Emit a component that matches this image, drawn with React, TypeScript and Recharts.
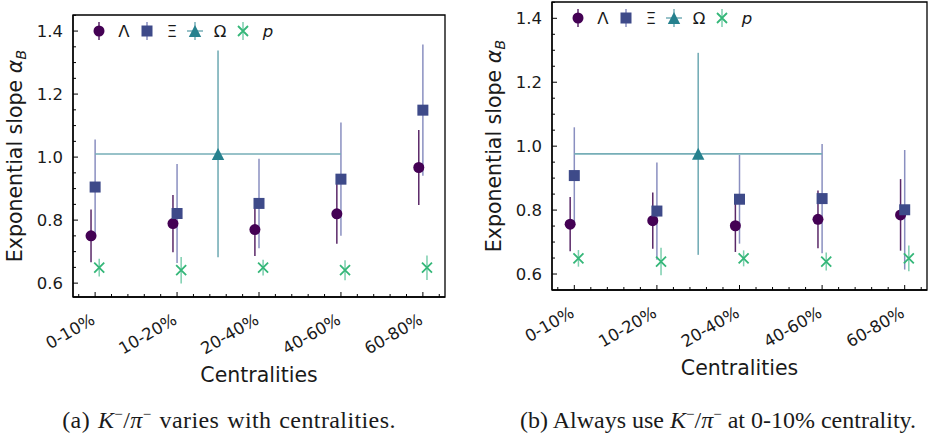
import React from 'react';
import { ScatterChart, Scatter, XAxis, YAxis, ErrorBar, ReferenceArea, Legend } from 'recharts';

const centralities = ['0-10%', '10-20%', '20-40%', '40-60%', '60-80%'];

// (a) K-/pi- varies with centralities
const lambdaA = [0.750, 0.789, 0.770, 0.820, 0.967];
const lambdaErrA = [0.084, 0.091, 0.084, 0.095, 0.119];
const xiA = [0.905, 0.821, 0.853, 0.930, 1.149];
const xiErrA = [0.151, 0.157, 0.142, 0.180, 0.208];
const omegaA = [1.010];
const omegaErrA = [0.328];
const protonA = [0.649, 0.641, 0.649, 0.641, 0.649];
const protonErrA = [0.028, 0.042, 0.025, 0.032, 0.039];

// (b) always K-/pi- at 0-10%
const lambdaB = [0.756, 0.767, 0.751, 0.771, 0.785];
const lambdaErrB = [0.085, 0.088, 0.082, 0.090, 0.112];
const xiB = [0.908, 0.797, 0.834, 0.836, 0.801];
const xiErrB = [0.151, 0.152, 0.139, 0.171, 0.187];
const omegaB = [0.976];
const omegaErrB = [0.316];
const protonB = [0.649, 0.639, 0.649, 0.639, 0.649];
const protonErrB = [0.026, 0.043, 0.025, 0.028, 0.040];

// Omega is one point spanning 0-10% .. 40-60%
const omegaX = [1.5];
const omegaXErr = [1.5];

const xTicks = [-0.2, 0, 0.2, 0.4, 0.6, 0.8, 1, 1.2, 1.4, 1.6, 1.8, 2, 2.2, 2.4, 2.6, 2.8, 3, 3.2, 3.4, 3.6, 3.8, 4, 4.2];
const yTicks = [0.6, 0.65, 0.7, 0.75, 0.8, 0.85, 0.9, 0.95, 1.0, 1.05, 1.1, 1.15, 1.2, 1.25, 1.3, 1.35, 1.4, 1.45];

const SANS = '"DejaVu Sans", Verdana, sans-serif';
const SERIF = '"Liberation Serif", "Times New Roman", serif';
const INK = '#1a1a1a';

const C = {
  lambda: '#440154', lambdaErr: '#5a2868',
  xi: '#3e4a89', xiErr: '#8a8fc0',
  omega: '#26818e', omegaErr: '#76aeb7',
  proton: '#35b779', protonErr: '#7ccfae',
};

const DODGE = 0.05;
const pts = (vals: number[], errs: number[], dx: number) =>
  vals.map((y, i) => ({ x: i + dx, y, err: errs[i] }));

const isMajorX = (v: number) => Math.abs(v - Math.round(v)) < 1e-6;
const isMajorY = (v: number) => Math.abs(v * 5 - Math.round(v * 5)) < 1e-6;

const XTick = (props: any) => {
  const { x, y, payload } = props;
  const v = payload.value;
  const major = isMajorX(v);
  const tx = x + 1;
  const ty = y + 26;
  return (
    <g>
      <line x1={x} x2={x} y1={y} y2={y - (major ? 5 : 3)} stroke="#000" strokeWidth={1} />
      {major && (
        <text x={tx} y={ty} transform={`rotate(-30 ${tx} ${ty})`} textAnchor="end"
          fontSize={16.5} fontFamily={SANS} fill={INK}>
          {centralities[Math.round(v)]}
        </text>
      )}
    </g>
  );
};

const YTick = (props: any) => {
  const { x, y, payload } = props;
  const v = payload.value;
  const major = isMajorY(v);
  return (
    <g>
      <line x1={x} x2={x + (major ? 5 : 3)} y1={y} y2={y} stroke="#000" strokeWidth={1} />
      {major && (
        <text x={x - 10} y={y} dy="0.36em" textAnchor="end" fontSize={16.5} fontFamily={SANS} fill={INK}>
          {v.toFixed(1)}
        </text>
      )}
    </g>
  );
};

const YTitle = (props: any) => {
  const { x, y, width, height } = props.viewBox;
  const cx = x + width - 51;
  const cy = y + height / 2;
  return (
    <text x={cx} y={cy} transform={`rotate(-90 ${cx} ${cy})`} textAnchor="middle"
      fontSize={20.5} fontFamily={SANS} fill={INK}>
      Exponential slope{' '}
      <tspan fontStyle="italic">α</tspan>
      <tspan fontStyle="italic" fontSize={14.5} dy={4}>B</tspan>
    </text>
  );
};

const XTitle = (props: any) => {
  const { x, y, width } = props.viewBox;
  return (
    <text x={x + width / 2} y={y + 85} textAnchor="middle" fontSize={20.5} fontFamily={SANS} fill={INK}>
      Centralities
    </text>
  );
};

const Dot = ({ cx, cy }: any) => (cx == null ? null : <circle cx={cx} cy={cy} r={5.5} fill={C.lambda} />);
const Sq = ({ cx, cy }: any) => (cx == null ? null : <rect x={cx - 5.5} y={cy - 5.5} width={11} height={11} fill={C.xi} />);
const Tri = ({ cx, cy }: any) =>
  cx == null ? null : <polygon points={`${cx},${cy - 6} ${cx - 6.2},${cy + 6} ${cx + 6.2},${cy + 6}`} fill={C.omega} />;
const Cross = ({ cx, cy }: any) =>
  cx == null ? null : (
    <path d={`M${cx - 5},${cy - 5}L${cx + 5},${cy + 5}M${cx - 5},${cy + 5}L${cx + 5},${cy - 5}`}
      stroke={C.proton} strokeWidth={1.8} fill="none" />
  );

const legendItems = [
  { key: 'lambda', label: 'Λ', italic: false },
  { key: 'xi', label: 'Ξ', italic: false },
  { key: 'omega', label: 'Ω', italic: false },
  { key: 'proton', label: 'p', italic: true },
];

const LegendGlyph = ({ k }: { k: string }) => (
  <svg width={16} height={20} style={{ display: 'block' }}>
    {k === 'omega' && <line x1={0} x2={16} y1={10} y2={10} stroke={C.omegaErr} strokeWidth={1.5} />}
    <line x1={8} x2={8} y1={1} y2={19} stroke={(C as any)[k + 'Err']} strokeWidth={1.5} />
    {k === 'lambda' && <Dot cx={8} cy={10} />}
    {k === 'xi' && <Sq cx={8} cy={10} />}
    {k === 'omega' && <Tri cx={8} cy={10} />}
    {k === 'proton' && <Cross cx={8} cy={10} />}
  </svg>
);

const LegendBox = () => (
  <div style={{ display: 'flex', alignItems: 'center', fontFamily: SANS, fontSize: 16.5, color: INK }}>
    {legendItems.map((it) => (
      <div key={it.key} style={{ display: 'flex', alignItems: 'center', width: 48 }}>
        <LegendGlyph k={it.key} />
        <span style={{ marginLeft: 10, width: 14, textAlign: 'center', fontStyle: it.italic ? 'italic' : 'normal' }}>
          {it.label}
        </span>
      </div>
    ))}
  </div>
);

type PanelProps = {
  left: number;
  width: number;
  margin: { top: number; right: number; bottom: number; left: number };
  yDomain: [number, number];
  lambda: number[]; lambdaErr: number[];
  xi: number[]; xiErr: number[];
  omega: number[]; omegaErr: number[];
  proton: number[]; protonErr: number[];
};

const X_DOMAIN: [number, number] = [-0.27, 4.27];
const CHART_H = 395;

function Panel(p: PanelProps) {
  const omegaPts = p.omega.map((y, i) => ({ x: omegaX[i], y, err: p.omegaErr[i], xerr: omegaXErr[i] }));
  return (
    <div style={{ position: 'absolute', left: p.left, top: 0 }}>
      <ScatterChart width={p.width} height={CHART_H} margin={p.margin}>
        <XAxis type="number" dataKey="x" domain={X_DOMAIN} ticks={xTicks} interval={0} allowDataOverflow
          tickSize={0} tickMargin={0} tick={<XTick />} height={60} axisLine={{ stroke: '#000', strokeWidth: 1.3 }}
          label={<XTitle />} />
        <YAxis type="number" dataKey="y" domain={p.yDomain} ticks={yTicks} interval={0} allowDataOverflow
          tickSize={0} tickMargin={0} tick={<YTick />} width={60} axisLine={{ stroke: '#000', strokeWidth: 1.3 }}
          label={<YTitle />} />
        <ReferenceArea x1={X_DOMAIN[0]} x2={X_DOMAIN[1]} y1={p.yDomain[0]} y2={p.yDomain[1]}
          fill="none" fillOpacity={0} stroke="#000" strokeWidth={1.3} ifOverflow="visible" />
        <Legend content={<LegendBox />} align="center" verticalAlign="middle"
          wrapperStyle={{ left: p.margin.left + 60 + 18, top: p.margin.top + 6, width: 'auto', height: 20 }} />
        <Scatter name="Λ" data={pts(p.lambda, p.lambdaErr, -DODGE)} shape={<Dot />} isAnimationActive={false}>
          <ErrorBar dataKey="err" direction="y" width={0} stroke={C.lambdaErr} strokeWidth={1.5} />
        </Scatter>
        <Scatter name="Ξ" data={pts(p.xi, p.xiErr, 0)} shape={<Sq />} isAnimationActive={false}>
          <ErrorBar dataKey="err" direction="y" width={0} stroke={C.xiErr} strokeWidth={1.5} />
        </Scatter>
        <Scatter name="Ω" data={omegaPts} shape={<Tri />} isAnimationActive={false}>
          <ErrorBar dataKey="err" direction="y" width={0} stroke={C.omegaErr} strokeWidth={1.6} />
          <ErrorBar dataKey="xerr" direction="x" width={0} stroke={C.omegaErr} strokeWidth={1.6} />
        </Scatter>
        <Scatter name="p" data={pts(p.proton, p.protonErr, DODGE)} shape={<Cross />} isAnimationActive={false}>
          <ErrorBar dataKey="err" direction="y" width={0} stroke={C.protonErr} strokeWidth={1.5} />
        </Scatter>
      </ScatterChart>
    </div>
  );
}

const captionStyle: React.CSSProperties = {
  position: 'absolute', top: 399, fontFamily: SERIF, fontSize: 24, color: INK,
  whiteSpace: 'nowrap', transform: 'translateX(-50%)', lineHeight: '30px',
};

export default function App() {
  return (
    <div style={{ position: 'absolute', left: 0, top: 0, width: 929, height: 436, background: '#fff', overflow: 'hidden' }}>
      <Panel left={0} width={460} margin={{ top: 15, right: 15, bottom: 38, left: 13 }} yDomain={[0.556, 1.451]}
        lambda={lambdaA} lambdaErr={lambdaErrA} xi={xiA} xiErr={xiErrA}
        omega={omegaA} omegaErr={omegaErrA} proton={protonA} protonErr={protonErrA} />
      <Panel left={470} width={459} margin={{ top: 2, right: 2, bottom: 45, left: 22 }} yDomain={[0.55, 1.451]}
        lambda={lambdaB} lambdaErr={lambdaErrB} xi={xiB} xiErr={xiErrB}
        omega={omegaB} omegaErr={omegaErrB} proton={protonB} protonErr={protonErrB} />
      <div style={{ ...captionStyle, left: 229, letterSpacing: 0.4, wordSpacing: 1.5 }}>
        (a) <i>K</i><sup style={{ fontSize: 15 }}>−</sup>/<i>π</i><sup style={{ fontSize: 15 }}>−</sup>{' '} varies with centralities.
      </div>
      <div style={{ ...captionStyle, left: 718 }}>
        (b) Always use <i>K</i><sup style={{ fontSize: 15 }}>−</sup>/<i>π</i><sup style={{ fontSize: 15 }}>−</sup> at 0-10% centrality.
      </div>
    </div>
  );
}
